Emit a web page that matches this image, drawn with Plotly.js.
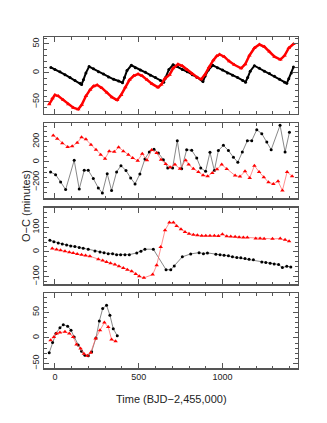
<!DOCTYPE html>
<html>
<head>
<meta charset="utf-8">
<script src="https://cdn.plot.ly/plotly-3.0.1.min.js"></script>
<style>html,body{margin:0;padding:0;background:#fff;}</style>
</head>
<body>
<div id="ocPlot" style="width:327px;height:423px;"></div>
<script>
// panel 1 (top)
const p1BlackX = [-24, 0, 30, 60, 90, 120, 150, 159, 170, 185, 204, 230, 260, 290, 320, 350, 380, 403, 415, 430, 456, 480, 510, 540, 570, 600, 630, 649, 660, 680, 705, 730, 760, 790, 820, 850, 883, 895, 915, 942, 970, 1000, 1030, 1060, 1090, 1120, 1137, 1150, 1165, 1190, 1220, 1250, 1280, 1310, 1340, 1370, 1383, 1395, 1410, 1423];
const p1BlackY = [9.4, 6, 2, -3, -8, -13, -18, -20, -12, 0, 11, 7, 2, -2, -7, -11, -14, -17, -8, 4, 13, 9, 5, 1, -4, -8, -13, -16, -8, 6, 14, 11, 6, 2, -3, -8, -15, -6, 5, 13, 9, 5, 0, -4, -8, -13, -16, -8, 3, 12.5, 8, 3, -1, -6, -11, -16, -18, -10, 0, 10];
const p1RedX = [-34, -15, 0, 20, 50, 80, 110, 139, 160, 185, 210, 230, 252, 280, 310, 340, 371, 395, 420, 445, 470, 496, 520, 550, 580, 615, 635, 655, 684, 705, 734, 760, 790, 820, 850, 873, 895, 920, 945, 965, 982, 1010, 1040, 1070, 1111, 1135, 1160, 1190, 1220, 1250, 1280, 1310, 1345, 1370, 1395, 1423];
const p1RedY = [-54, -44, -38, -40, -47, -54, -60, -63, -55, -40, -29, -23, -21, -26, -34, -42, -47, -38, -25, -12, -5, -2, -5, -12, -19, -25, -20, -10, -3, 8, 15, 12, 5, -2, -8, -11, -3, 10, 22, 29, 32, 28, 20, 14, 8, 15, 30, 43, 49, 45, 37, 28, 23, 30, 43, 50];

// panel 2
const p2BlackX = [-26, 4, 34, 64, 115, 145, 175, 199, 229, 259, 283, 312, 338, 368, 394, 424, 452, 478, 507, 537, 563, 591, 617, 647, 673, 702, 730, 756, 786, 816, 846, 870, 899, 925, 951, 975, 1005, 1035, 1065, 1091, 1118, 1148, 1174, 1204, 1234, 1264, 1290, 1343, 1373, 1399];
const p2BlackY = [-98, -125, -197, -272, 16, -266, -82, -82, -164, -256, -305, -115, -282, -98, -36, -85, -157, -216, -118, 30, 98, 125, 89, 23, -59, -59, 210, -66, 121, 115, 39, -59, -92, 95, -85, 112, 164, 112, 46, -3, 98, 210, 210, 318, 279, 197, 121, 361, 98, 292];
const p2RedX = [-10, 14, 44, 76, 103, 133, 159, 185, 215, 245, 273, 299, 324, 354, 380, 408, 438, 464, 494, 521, 549, 577, 607, 633, 661, 687, 716, 746, 780, 798, 826, 856, 884, 911, 939, 967, 995, 1025, 1075, 1104, 1134, 1162, 1190, 1218, 1246, 1274, 1303, 1331, 1357, 1385, 1415];
const p2RedY = [262, 230, 184, 148, 154, 190, 243, 223, 171, 121, 72, 33, 105, 102, 144, 105, 72, 39, 13, 82, 16, 118, 89, 23, -20, -52, -26, -66, 18, -26, -66, -98, -131, -141, -108, -72, -26, -69, -134, -144, -92, -157, -36, -98, -151, -200, -216, -190, -282, -98, -141];

// panel 3
const p3BlackX = [-30, -6, 20, 44, 70, 94, 119, 145, 169, 199, 239, 269, 293, 318, 344, 368, 392, 418, 444, 488, 513, 537, 587, 663, 691, 712, 760, 810, 860, 886, 910, 960, 985, 1009, 1035, 1059, 1085, 1109, 1134, 1158, 1184, 1234, 1258, 1284, 1308, 1334, 1357, 1383, 1407];
const p3BlackY = [47, 41, 36.5, 32, 28, 24, 22, 18, 15, 11, 4, 0, -3, -7, -7, -11, -11, -11, -11, -4, 3, 11, 11, -72, -72, -57, -20, -8, -3, -7, -4, -9, -11, -13.5, -16, -20, -23, -24, -27, -30, -32, -40.5, -43, -46, -49, -51, -63.5, -58, -61];
const p3RedX = [-16, 10, 34, 60, 86, 109, 133, 159, 183, 209, 259, 285, 308, 332, 358, 382, 408, 432, 458, 482, 503, 531, 583, 607, 631, 657, 683, 707, 726, 752, 776, 800, 826, 850, 876, 900, 925, 951, 975, 999, 1025, 1049, 1075, 1099, 1124, 1148, 1198, 1224, 1248, 1298, 1344, 1373, 1397];
const p3RedY = [13.5, 9.5, 7, 3, -1, -4, -8, -11, -15, -17.5, -30, -35, -40.5, -46, -51, -58, -65, -72, -78, -89, -99, -105, -92, -54, 20, 88, 119, 119, 105, 92, 81, 74, 70, 67.5, 66, 66, 66, 66, 65, 72, 63.5, 62, 61, 59, 58, 58, 54, 54, 53, 53, 54, 49, 43];

// panel 4 (bottom)
const p4BlackX = [-34, -14, 6, 30, 50, 76, 96, 115, 139, 159, 179, 199, 219, 245, 265, 285, 308, 328, 348, 372];
const p4BlackY = [-29, -9, 8.5, 20, 26, 23, 15, 2, -14, -26, -34, -35, -27, 0, 33, 57.5, 64, 44.5, 18, 4];
const p4RedX = [-26, -6, 10, 30, 60, 86, 109, 129, 153, 173, 193, 213, 243, 269, 295, 318, 338, 362];
const p4RedY = [-4.6, 2, 8.5, 10.5, 12, 8.5, 2, -13, -21, -31, -35, -29, -1, 15, 30, 21.5, -3.3, -6.5];

const xTickVals = [0, 500, 1000];
const xRange = [-65, 1450];
const yRanges = [[-71, 62], [-355, 384], [-130, 178], [-59, 88]];
const yMajor = [50, 200, 100, 50];
const yMinor = [10, 50, 20, 10];
const yDomains = [[0.7305, 0.9125], [0.5319, 0.7092], [0.3286, 0.5083], [0.1300, 0.3073]];

const AX_COLOR = '#555';
const RED = '#ff0000';

function sfx(n) { return n === 1 ? '' : String(n); }

function blackTrace(x, y, n, dense) {
  return {x: x, y: y, xaxis: 'x' + sfx(n), yaxis: 'y' + sfx(n), type: 'scatter', mode: 'lines+markers',
    line: {color: dense ? '#000' : '#555', width: dense ? 2 : 0.7},
    marker: {color: '#000', size: 3, symbol: 'circle'}, showlegend: false, cliponaxis: false};
}

function redTrace(x, y, n, dense) {
  return {x: x, y: y, xaxis: 'x' + sfx(n), yaxis: 'y' + sfx(n), type: 'scatter', mode: 'lines+markers',
    line: {color: dense ? RED : '#ff6060', width: dense ? 2.5 : 0.7},
    marker: {color: RED, size: 4, symbol: 'triangle-up'}, showlegend: false, cliponaxis: false};
}

const traces = [
  blackTrace(p1BlackX, p1BlackY, 1, true), redTrace(p1RedX, p1RedY, 1, true),
  blackTrace(p2BlackX, p2BlackY, 2, false), redTrace(p2RedX, p2RedY, 2, false),
  blackTrace(p3BlackX, p3BlackY, 3, false), redTrace(p3RedX, p3RedY, 3, false),
  blackTrace(p4BlackX, p4BlackY, 4, false), redTrace(p4RedX, p4RedY, 4, false)
];

const layout = {
  width: 327, height: 423,
  margin: {l: 0, r: 0, t: 0, b: 0},
  paper_bgcolor: '#fff', plot_bgcolor: '#fff',
  font: {family: 'Liberation Sans, Arial, sans-serif', size: 9, color: '#222'},
  annotations: [
    {text: 'Time (BJD\u22122,455,000)', xref: 'paper', yref: 'paper', x: 0.523, y: 0.038,
      showarrow: false, font: {size: 11, color: '#222'}},
    {text: 'O\u2212C (minutes)', xref: 'paper', yref: 'paper', x: 0.055, y: 0.513,
      showarrow: false, textangle: -90, font: {size: 11, color: '#222'}}
  ]
};

for (let n = 1; n <= 4; n++) {
  layout['xaxis' + sfx(n)] = {
    domain: [0.1346, 0.9113], range: xRange, anchor: 'y' + sfx(n),
    tickmode: 'array', tickvals: xTickVals, ticks: 'inside', ticklen: 5, tickcolor: AX_COLOR,
    minor: {dtick: 100, tick0: 0, ticks: 'inside', ticklen: 2.5, tickcolor: AX_COLOR},
    mirror: 'allticks', showline: true, linecolor: AX_COLOR, linewidth: 1.5,
    showgrid: false, zeroline: false, showticklabels: n === 4, automargin: false,
    tickfont: {size: 9, color: '#222'}
  };
  layout['yaxis' + sfx(n)] = {
    domain: yDomains[n - 1], range: yRanges[n - 1], anchor: 'x' + sfx(n),
    dtick: yMajor[n - 1], tick0: 0, ticks: 'inside', ticklen: 5, tickcolor: AX_COLOR,
    minor: {dtick: yMinor[n - 1], tick0: 0, ticks: 'inside', ticklen: 2.5, tickcolor: AX_COLOR},
    mirror: 'allticks', showline: true, linecolor: AX_COLOR, linewidth: 1.5,
    showgrid: false, zeroline: false, tickangle: -90, automargin: false,
    tickfont: {size: 9, color: '#222'}
  };
}

Plotly.newPlot('ocPlot', traces, layout, {displayModeBar: false, staticPlot: true});
</script>
</body>
</html>
